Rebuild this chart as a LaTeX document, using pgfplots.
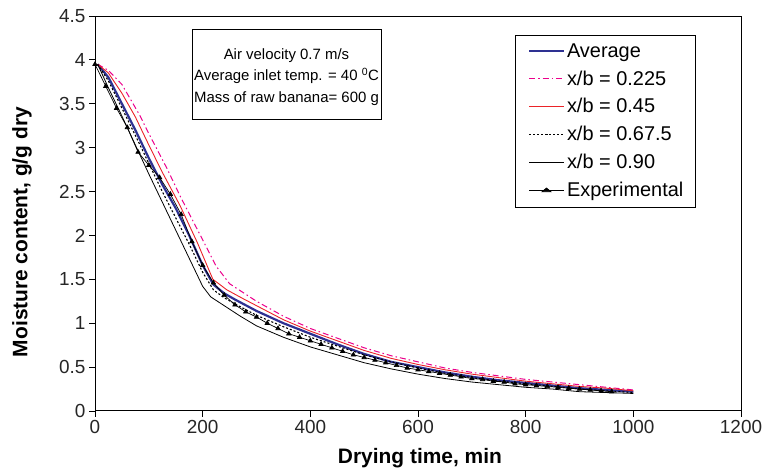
\documentclass[border=0pt]{standalone}
\usepackage{fontspec}
\setmainfont{Liberation Sans}
\usepackage{pgfplots}
\pgfplotsset{compat=1.18}
\definecolor{avgblue}{RGB}{46,49,146}
\definecolor{pinkc}{RGB}{236,0,140}
\definecolor{redc}{RGB}{235,35,40}
\begin{document}
\begin{tikzpicture}
\path[use as bounding box] (0,0) rectangle (767bp,470bp);
\begin{axis}[
  at={(95bp,59bp)}, anchor=south west,
  scale only axis, width=646bp, height=395bp,
  xmin=0, xmax=1200, ymin=0, ymax=4.5,
  xtick={0,200,...,1200}, ytick={0,0.5,...,4.5},
  tick pos=left, tick align=outside, major tick length=6bp,
  axis line style={line width=1bp},
  every tick/.style={black, line width=0.8bp},
  /pgf/number format/assume math mode=true,
  /pgf/number format/1000 sep={},
  ticklabel style={font=\fontsize{19}{22}\selectfont, text=black!85},
  xlabel={Drying time, min},
  ylabel={Moisture content, g/g dry},
  label style={font=\fontsize{21}{24}\selectfont\bfseries},
  xlabel style={at={(axis description cs:0.503,-0.120)}, anchor=center},
  ylabel style={at={(axis description cs:-0.113,0.453)}, anchor=center},
  legend style={at={(0.792,0.734)}, anchor=center, draw=none, fill=none,
    font=\fontsize{20}{23}\selectfont, row sep=7.5bp, inner xsep=0bp, inner ysep=0bp,
    nodes={text depth=0.2em},
    cells={anchor=west}},
  legend cell align=left,
  legend image post style={xscale=2.05},
]
\addplot[color=avgblue, line width=2.2bp] coordinates {
(5,3.95) (25,3.80) (50,3.50) (75,3.20) (100,2.88) (125,2.58) (150,2.31) (175,2.00) (200,1.66) (220,1.44) (240,1.34) (260,1.27) (300,1.14) (350,1.00) (400,0.88) (450,0.76) (500,0.65) (550,0.56) (600,0.50) (650,0.44) (700,0.39) (750,0.35) (800,0.32) (850,0.29) (900,0.26) (950,0.24) (1000,0.22)};
\addlegendentry{Average}
\addplot[color=pinkc, line width=1bp, dash pattern=on 6bp off 3bp on 1.5bp off 3bp] coordinates {
(5,3.95) (25,3.88) (50,3.72) (83,3.37) (100,3.16) (134,2.76) (158,2.45) (200,1.95) (225,1.65) (250,1.45) (275,1.35) (300,1.25) (350,1.08) (400,0.94) (450,0.83) (500,0.72) (550,0.63) (600,0.56) (650,0.49) (700,0.44) (750,0.40) (800,0.36) (850,0.33) (900,0.30) (950,0.27) (1000,0.24)};
\addlegendentry{x/b = 0.225}
\addplot[color=redc, line width=0.9bp] coordinates {
(5,3.95) (25,3.85) (50,3.62) (75,3.35) (100,3.03) (125,2.72) (158,2.34) (190,1.92) (219,1.50) (245,1.38) (275,1.28) (300,1.20) (350,1.04) (400,0.91) (450,0.80) (500,0.69) (550,0.60) (600,0.53) (650,0.47) (700,0.42) (750,0.38) (800,0.34) (850,0.31) (900,0.28) (950,0.26) (1000,0.23)};
\addlegendentry{x/b = 0.45}
\addplot[color=black, line width=1.1bp, dash pattern=on 2bp off 2bp] coordinates {
(5,3.95) (25,3.76) (50,3.45) (75,3.14) (100,2.82) (125,2.50) (150,2.20) (175,1.90) (200,1.58) (220,1.38) (240,1.29) (260,1.22) (300,1.09) (350,0.96) (400,0.84) (450,0.74) (500,0.64) (550,0.56) (600,0.49) (650,0.43) (700,0.38) (750,0.34) (800,0.31) (850,0.28) (900,0.25) (950,0.23) (1000,0.21)};
\addlegendentry{x/b = 0.67.5}
\addplot[color=black, line width=0.8bp] coordinates {
(5,3.95) (25,3.68) (50,3.36) (75,3.03) (100,2.70) (125,2.38) (150,2.06) (175,1.74) (200,1.42) (215,1.30) (240,1.20) (270,1.08) (300,0.97) (350,0.84) (400,0.73) (450,0.64) (500,0.55) (550,0.48) (600,0.42) (650,0.37) (700,0.33) (750,0.30) (800,0.27) (850,0.25) (900,0.22) (950,0.21) (1000,0.20)};
\addlegendentry{x/b = 0.90}
\addplot[color=black, line width=0.7bp, mark=triangle*, mark size=2.5bp, mark options={solid, fill=black}] coordinates {
(0,3.95) (20,3.70) (40,3.45) (60,3.23) (80,2.95) (100,2.80) (120,2.66) (140,2.47) (160,2.24) (180,1.93) (200,1.66) (220,1.46) (240,1.32) (260,1.21) (280,1.13) (300,1.07) (320,1.00) (340,0.94) (360,0.88) (380,0.84) (400,0.80) (420,0.76) (440,0.72) (460,0.68) (480,0.64) (500,0.61) (520,0.58) (540,0.55) (560,0.52) (580,0.49) (600,0.47) (620,0.45) (640,0.43) (660,0.41) (680,0.39) (700,0.37) (720,0.36) (740,0.34) (760,0.33) (780,0.31) (800,0.30) (820,0.29) (840,0.28) (860,0.27) (880,0.26) (900,0.25) (920,0.24) (940,0.23) (960,0.22)};
\addlegendentry{Experimental}
\node[draw=black, line width=0.8bp, minimum width=180bp, minimum height=172bp, inner sep=0pt] at (axis description cs:0.7895,0.734) {};
\node[draw=black, line width=0.8bp, minimum width=189bp, minimum height=90bp, inner sep=0pt] at (axis description cs:0.2964,0.852) {};
\node[align=center, font=\fontsize{15}{21.5}\selectfont, inner sep=0pt] at (axis description cs:0.2964,0.846) {Air velocity 0.7 m/s\\Average inlet temp. = 40 $^{\mathrm{0}}$C\\Mass of raw banana= 600 g};
\end{axis}
\end{tikzpicture}
\end{document}
